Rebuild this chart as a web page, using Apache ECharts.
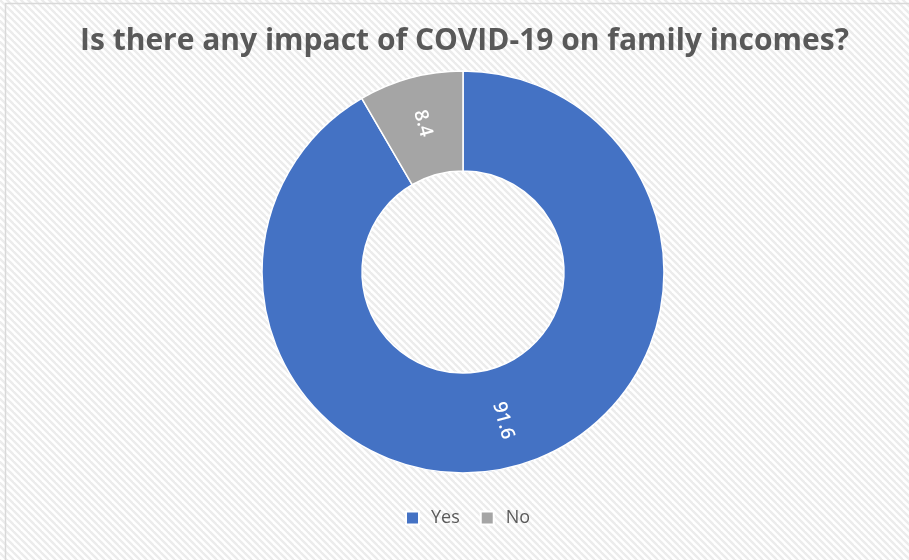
<!DOCTYPE html>
<html>
<head>
<meta charset="utf-8">
<script src="https://cdn.jsdelivr.net/npm/echarts@6/dist/echarts.min.js"></script>
<style>
  html, body { margin: 0; padding: 0; background: #ffffff; }
  #chart { width: 909px; height: 560px; }
</style>
</head>
<body>
<div id="chart"></div>
<script>
// Survey answers (percent of respondents)
const categories = ['Yes', 'No'];
const shares = [91.6, 8.4];
const sliceColors = ['#4472C4', '#A5A5A5'];
const titleText = 'Is there any impact of COVID-19 on family incomes?';

// Diagonal hatch used for the chart-area fill
function makeHatch() {
  const n = 7;
  const c = document.createElement('canvas');
  c.width = n; c.height = n;
  const g = c.getContext('2d');
  g.fillStyle = '#ffffff';
  g.fillRect(0, 0, n, n);
  g.strokeStyle = '#ececec';
  g.lineWidth = 2.4;
  for (let k = -1; k <= 1; k++) {
    g.beginPath();
    g.moveTo(k * n - 1, -1);
    g.lineTo(k * n + n + 1, n + 1);
    g.stroke();
  }
  return c;
}

const chart = echarts.init(document.getElementById('chart'), null, { renderer: 'canvas' });

chart.setOption({
  backgroundColor: { image: makeHatch(), repeat: 'repeat' },
  title: {
    text: titleText,
    left: 75,
    top: 21,
    textStyle: {
      fontFamily: 'Open Sans',
      fontWeight: 'bold',
      fontSize: 30,
      color: '#595959'
    }
  },
  legend: {
    data: categories,
    left: 400,
    top: 504,
    itemWidth: 13,
    itemHeight: 13,
    itemGap: 20,
    icon: 'rect',
    textStyle: { fontFamily: 'Open Sans', fontSize: 18, color: '#595959', padding: [0, 0, 0, 7] }
  },
  graphic: [{
    type: 'rect',
    silent: true,
    shape: { x: 5.5, y: 3.5, width: 920, height: 580 },
    style: { fill: 'none', stroke: '#d9d9d9', lineWidth: 1.5 }
  }],
  series: [{
    type: 'pie',
    center: [463, 272],
    radius: [101, 201],
    startAngle: 90,
    clockwise: true,
    avoidLabelOverlap: false,
    itemStyle: { borderColor: '#ffffff', borderWidth: 1.5 },
    label: {
      show: true,
      position: 'inside',
      formatter: '{c}',
      rotate: -75,
      color: '#ffffff',
      fontFamily: 'Open Sans',
      fontWeight: 600,
      fontSize: 19
    },
    labelLine: { show: false },
    emphasis: { disabled: true },
    data: categories.map((name, i) => ({
      name: name,
      value: shares[i],
      itemStyle: { color: sliceColors[i] }
    }))
  }]
});
</script>
</body>
</html>
